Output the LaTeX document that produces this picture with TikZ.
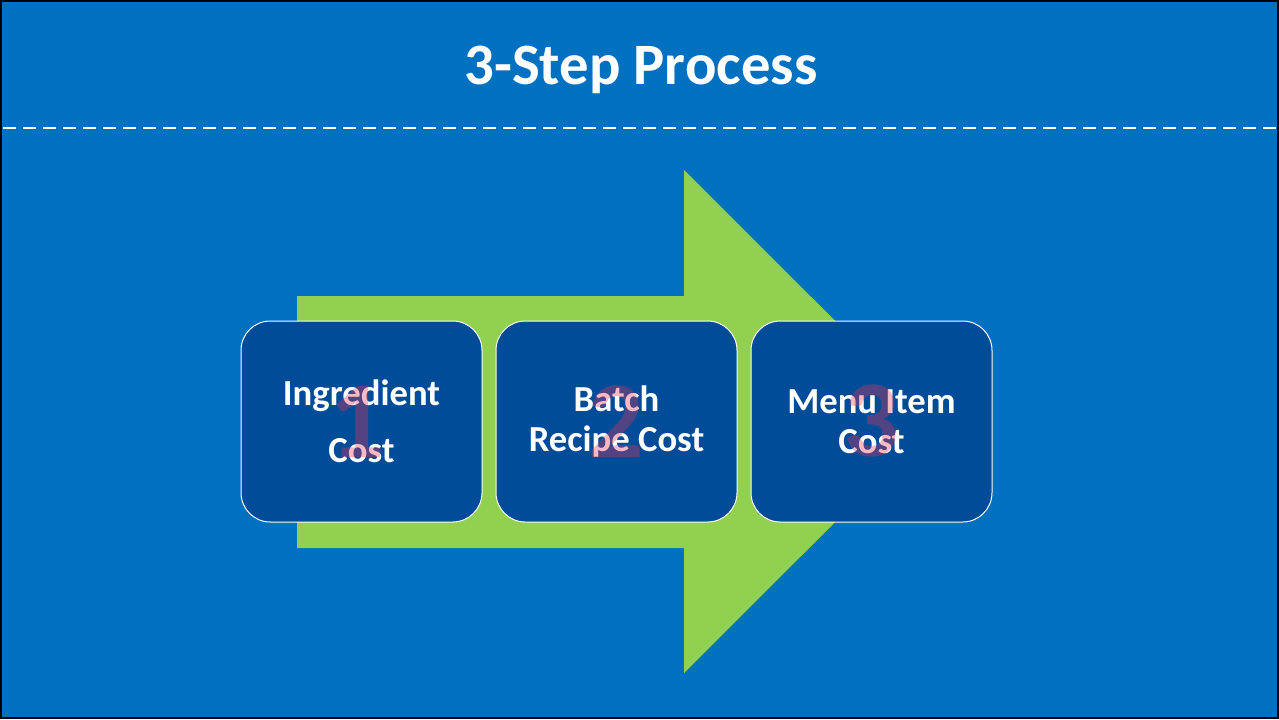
\documentclass[tikz,border=0pt]{standalone}
\usepackage{fontspec}
\setmainfont{Carlito}
\usetikzlibrary{positioning}

\definecolor{slideblue}{HTML}{0070C0}
\definecolor{boxblue}{HTML}{004C98}
\definecolor{arrowgreen}{HTML}{92D050}
\definecolor{digitpink}{RGB}{235,55,90}

\begin{document}
\begin{tikzpicture}
            [x=0.75pt, y=-0.75pt, every node/.style={text=white, font=\bfseries},
             stepbox/.style={draw=white, line width=0.75pt, fill=boxblue, rounded corners=22pt, minimum width=180.75pt, minimum height=150.75pt, inner sep=0, align=center},
             stepdigit/.style={text=digitpink, text opacity=0.35, font=\fontsize{82}{82}\selectfont\bfseries, inner sep=0},
             node distance=9.75pt]

            % background and frame
            \fill[slideblue] (0, 0) rectangle (1279, 719);
            \draw[black, line width=1.8pt] (1.2, 1.2) rectangle (1277.8, 717.8);

            % title
            \node (title) at (641, 70) {\fontsize{44}{50}\selectfont\bfseries 3-Step Process};
            \draw[white, line width=1.5pt, dash pattern=on 10pt off 5pt] (3, 128) -- (1276, 128);

            % big arrow
            \fill[arrowgreen] (297, 296) -- (684, 296) -- (684, 170) -- (936, 421.5) -- (684, 673) -- (684, 548) -- (297, 548) -- cycle;

            % steps
            \node[stepbox, font=\fontsize{27.5}{42.75}\selectfont\bfseries] (cost1) at (361.5, 421.5) {Ingredient\\Cost};
            \node[stepbox, right=of cost1, font=\fontsize{27.5}{30}\selectfont\bfseries] (cost2) {Batch\\Recipe Cost};
            \node[stepbox, right=of cost2, font=\fontsize{27.5}{30}\selectfont\bfseries] (cost3) {Menu Item\\Cost};

            \node[stepdigit] (digit1) at ([xshift=-3pt]cost1.center) {1};
            \node[stepdigit] (digit2) at (cost2.center) {2};
            \node[stepdigit] (digit3) at (cost3.center) {3};
          \end{tikzpicture}
\end{document}
